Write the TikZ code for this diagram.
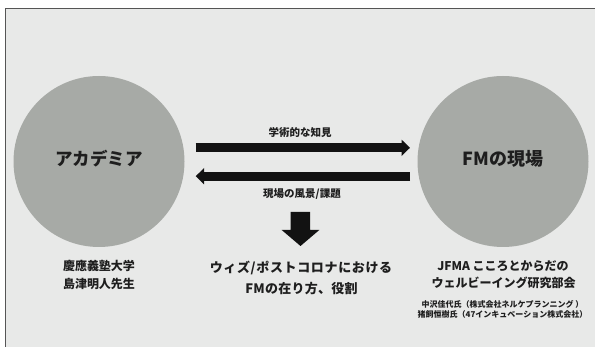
\documentclass[tikz,border=0pt]{standalone}
\usepackage{fontspec}
\setmainfont{Noto Sans CJK JP}
\usetikzlibrary{arrows.meta,calc}
\definecolor{bgc}{HTML}{E8E9E8}
\definecolor{circc}{HTML}{A7AAA6}
\definecolor{txtc}{HTML}{1E1E1E}
\definecolor{arrc}{HTML}{121212}
\definecolor{framec}{HTML}{555555}
\tikzset{
  jp/.style={inner sep=0pt, text=txtc, font=\bfseries, text height=.88em, text depth=.12em},
  bigc/.style={circle, fill=circc, minimum size=171pt, inner sep=0pt, text=txtc},
  flow/.style={draw=arrc, line width=9pt, -{Triangle[length=8.5pt,width=16pt]}},
}
\begin{document}
\begin{tikzpicture}[x=1pt,y=-1pt]
\useasboundingbox (0,0) rectangle (595,347);
\fill[white] (0,0) rectangle (595,347);
\fill[bgc] (5.3,8.3) rectangle (595,347);
\draw[framec, line width=1pt] (5.3,347) -- (5.3,8.3) -- (595,8.3);
% circles
\node[bigc] (acad) at (99,161.5) {};
\node[bigc] (field) at (503,161.5) {};
\node[jp, font=\fontsize{17.5}{18}\bfseries] at (acad) {アカデミア};
\node[jp, font=\fontsize{18}{18}\bfseries] at (field) {FMの現場};
% arrows
\coordinate (a1s) at ($(acad.center)+(96.7,-13.7)$);
\coordinate (a1e) at ($(field.center)+(-93,-13.7)$);
\coordinate (a2s) at ($(field.center)+(-93,14.7)$);
\coordinate (a2e) at ($(acad.center)+(96.7,14.7)$);
\draw[flow] (a1s) -- (a1e);
\draw[flow] (a2s) -- (a2e);
\node[jp, font=\fontsize{10.5}{12}\bfseries] (lab1) at (300,133) {学術的な知見};
\node[jp, font=\fontsize{10.5}{12}\bfseries] (lab2) at (302,194) {現場の風景/課題};
% down arrow
\fill[arrc] (290.7,212) -- (310,212) -- (310,230) -- (319.3,230) -- (300.5,246) -- (281.7,230) -- (290.7,230) -- cycle;
% texts
\node[jp, font=\fontsize{13}{14}\bfseries\addfontfeature{LetterSpace=5}] (c1) at (301,268.3) {ウィズ/ポストコロナにおける};
\node[jp, font=\fontsize{13}{14}\bfseries\addfontfeature{LetterSpace=2}] (c2) at (301.5,289.5) {FMの在り方、役割};
\node[jp, font=\fontsize{12}{12}\bfseries] (l1) at (99,266.8) {慶應義塾大学};
\node[jp, font=\fontsize{12}{12}\bfseries] (l2) at (99,284.5) {島津明人先生};
\node[jp, font=\fontsize{12}{12}\bfseries] (r1) at (503,266.3) {JFMA こころとからだの};
\node[jp, font=\fontsize{12}{12}\bfseries] (r2) at (503.5,284) {ウェルビーイング研究部会};
\node[jp, font=\fontsize{8}{9}\bfseries] (r3) at (502.5,303.3) {中沢佳代氏（株式会社ネルケプランニング ）};
\node[jp, font=\fontsize{8}{9}\bfseries] (r4) at (502.5,313.5) {猪飼恒樹氏（47インキュベーション株式会社）};
\end{tikzpicture}
\end{document}
